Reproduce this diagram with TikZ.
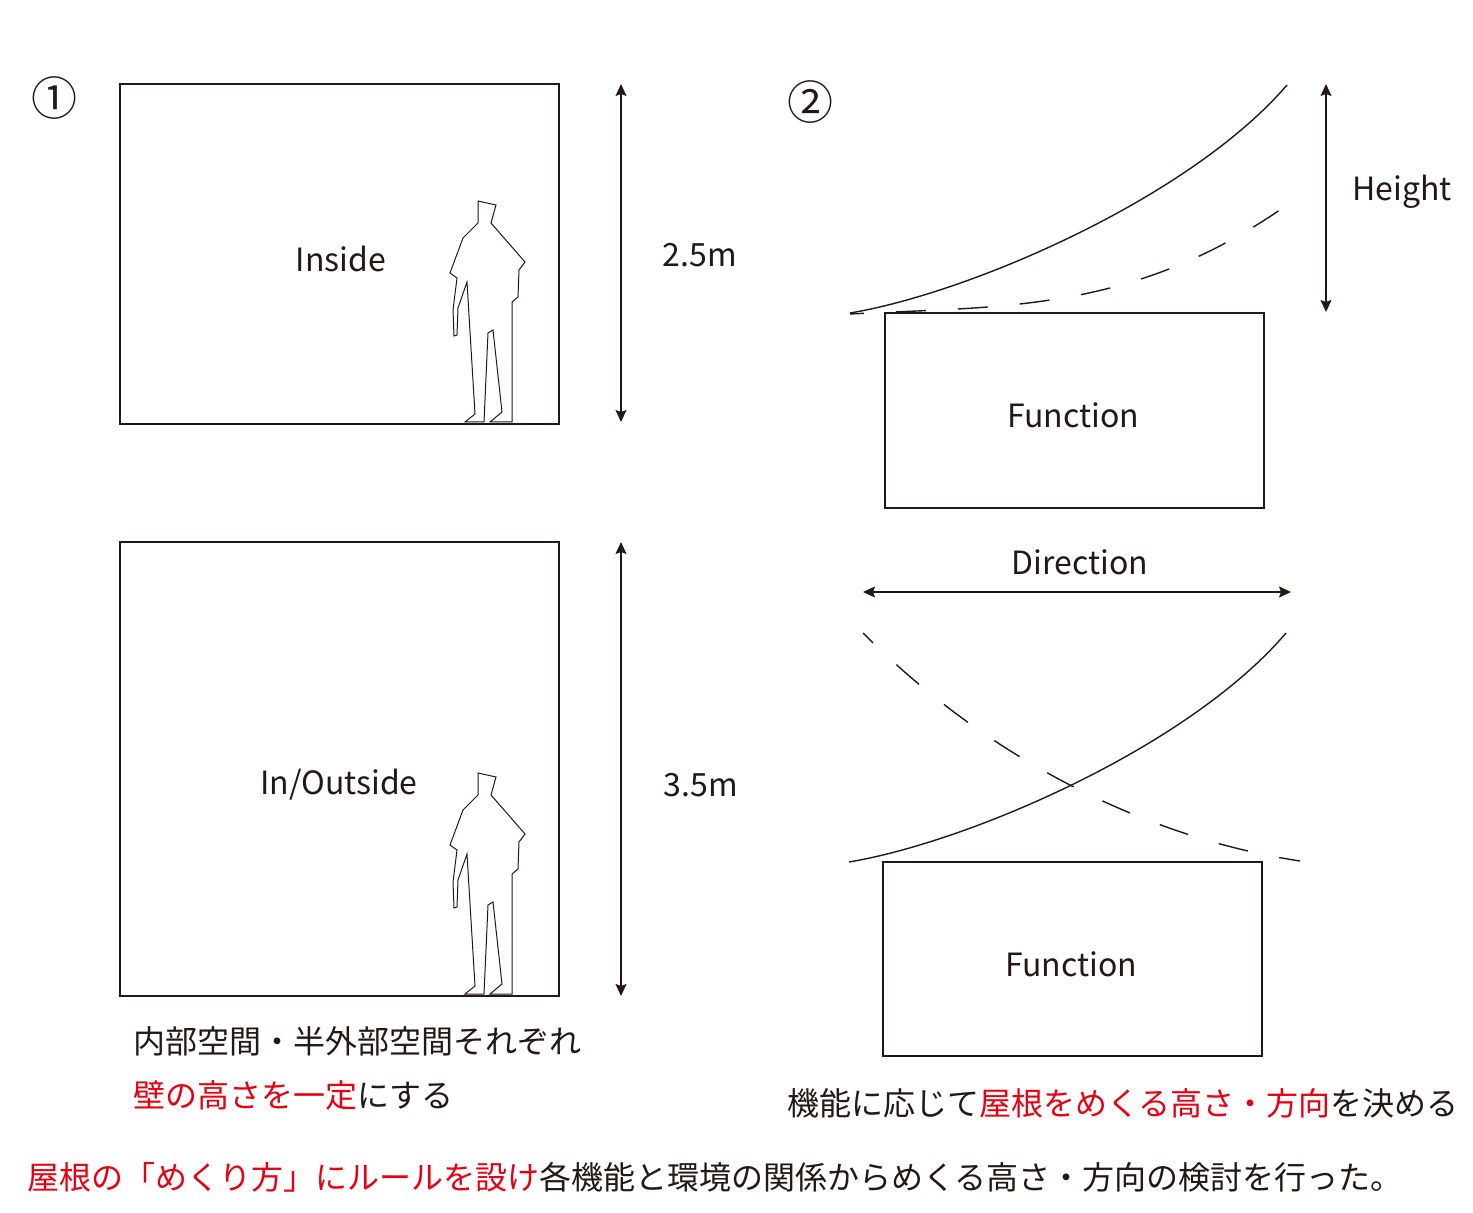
\documentclass[tikz,border=0pt]{standalone}
\usepackage{fontspec}
\setmainfont{Noto Sans CJK JP}
\usepackage{xcolor}
\usepackage{tikz}
\usetikzlibrary{arrows.meta,positioning,calc}

\definecolor{ink}{RGB}{35,24,21}
\definecolor{accent}{RGB}{230,0,18}

\tikzset{
  room/.style={draw=ink, line width=0.8pt, inner sep=0pt, text=ink,
    font=\fontsize{16pt}{20pt}\selectfont},
  dimline/.style={draw=ink, line width=0.6pt,
    {Stealth[length=6pt,width=5.5pt,inset=1pt]}-{Stealth[length=6pt,width=5.5pt,inset=1pt]}},
  roof/.style={draw=ink, line width=0.7pt},
  altroof/.style={roof, dash pattern=on 15pt off 16pt, dash phase=8pt},
  lbl/.style={text=ink, inner sep=0pt, font=\fontsize{16pt}{20pt}\selectfont},
  walker/.style={draw=ink, line width=0.5pt},
}

\begin{document}
\begin{tikzpicture}[x=0.5pt, y=-0.5pt]
  \useasboundingbox (0,0) rectangle (1473,1213);

  % (1) wall heights
  \node[lbl, font=\fontsize{23pt}{26pt}\selectfont] (one) at (55,98) {①};
  \node[room, minimum width=219.5pt, minimum height=170pt] (inside) at (339.5,254) {};
  \node[lbl] (insidetxt) at (341,259) {Inside};
  \node[room, minimum width=219.5pt, minimum height=227pt] (semi) at (339.5,769) {};
  \node[lbl] (semitxt) at (339,785) {In/Outside};

  \coordinate (d1a) at (621,84);  \coordinate (d1b) at (621,422);
  \coordinate (d2a) at (621,542); \coordinate (d2b) at (621,996);
  \draw[dimline] (d1a) -- (d1b);
  \draw[dimline] (d2a) -- (d2b);
  \node[lbl] (h1) at (700,255) {2.5m};
  \node[lbl] (h2) at (701,785) {3.5m};

  % standing figure, once per room
  \foreach \dy in {0,572}
    \draw[walker, shift={(0,\dy)}] (478,201) -- (496,205) -- (491,223) -- (525,262)
      -- (519,270) -- (518,297) -- (512,302) -- (512,422) -- (490,422) -- (502,412)
      -- (493,330) -- (488,333) -- (484,422) -- (465,422) -- (475,414) -- (467,282)
      -- (458,308) -- (457,335) -- (454,336) -- (453,310) -- (457,278) -- (450,273)
      -- (463,238) -- (478,223) -- cycle;

  \node[lbl, anchor=west] (note1) at (133,1041) {内部空間・半外部空間それぞれ};
  \node[lbl, anchor=west] (note2) at (133,1095) {\textcolor{accent}{壁の高さを一定}にする};

  % (2) roof lifting
  \node[lbl, font=\fontsize{23pt}{26pt}\selectfont] (two) at (810,102) {②};
  \node[room, minimum width=189.5pt, minimum height=97.5pt] (func1) at (1074.5,410.5) {};
  \node[lbl] (func1txt) at (1073,415) {Function};
  \node[room, minimum width=189.5pt, minimum height=97pt] (func2) at (1072.5,959) {};
  \node[lbl] (func2txt) at (1071,964) {Function};

  \draw[roof] (850,313) .. controls (970,293) and (1190,198) .. (1287,85);
  \draw[altroof] (850,314) .. controls (1004,306) and (1133,313) .. (1287,205);
  \coordinate (hta) at (1326,84); \coordinate (htb) at (1326,312);
  \draw[dimline] (hta) -- (htb);
  \node[lbl] (height) at (1402,192) {Height};

  \coordinate (dra) at (863,592); \coordinate (drb) at (1291,592);
  \draw[dimline] (dra) -- (drb);
  \node[lbl] (dir) at (1080,562) {Direction};

  \draw[roof] (849,862) .. controls (969,842) and (1189,747) .. (1286,633);
  \draw[altroof] (863,633) .. controls (1001,771) and (1162,840) .. (1300,861);

  \node[lbl, anchor=west] (note3) at (787,1103)
    {機能に応じて\textcolor{accent}{屋根をめくる高さ・方向}を決める};

  \node[lbl, anchor=west] (summary) at (27,1177)
    {\textcolor{accent}{屋根の「めくり方」にルールを設け}各機能と環境の関係からめくる高さ・方向の検討を行った。};
\end{tikzpicture}
\end{document}
